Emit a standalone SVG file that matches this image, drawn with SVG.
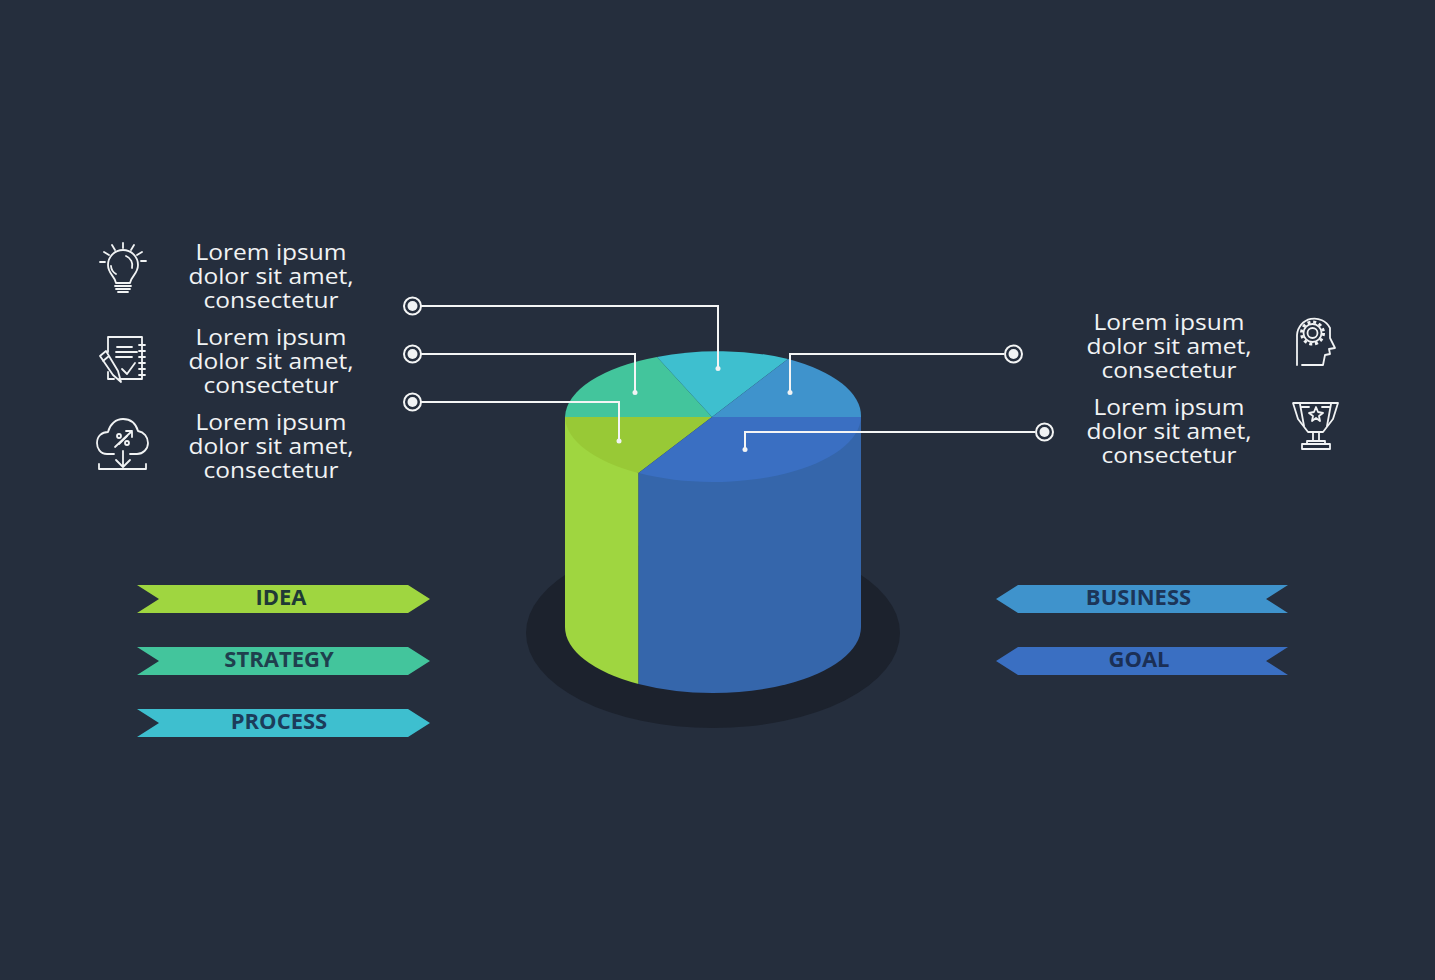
<svg xmlns="http://www.w3.org/2000/svg" width="1435" height="980" viewBox="0 0 1435 980">
<style>
.t{font-family:"Open Sans","Liberation Sans",sans-serif;font-size:22px;fill:#f1f3f4;text-anchor:middle}
.l{font-family:"Open Sans","Liberation Sans",sans-serif;font-size:22px;font-weight:700;text-anchor:middle}
.ic{fill:none;stroke:#f1f3f4;stroke-width:1.8;stroke-linecap:round;stroke-linejoin:round}
.c{fill:none;stroke:#f4f5f5;stroke-width:2}
.d{fill:#f1f3f4}
.r{fill:none;stroke:#f4f5f5;stroke-width:2}
</style>
<rect width="1435" height="980" fill="#252e3d"/>
<g id="cylinder">
<ellipse cx="713" cy="633" rx="187" ry="95" fill="#1c222d"/>
<path d="M565 417V627A148 66 0 0 0 638.500 684V473L565 417Z" fill="#9fd640"/>
<path d="M638.500 473V684A148 66 0 0 0 861 627V417Z" fill="#3566ab"/>
<path d="M565 417A148 66 0 0 0 638.500 473L712 417Z" fill="#98c936"/>
<path d="M565 417A148 66 0 0 1 657 357L712 417Z" fill="#43c59c"/>
<path d="M657 357A148 66 0 0 1 788 359L712 417Z" fill="#3ebfcf"/>
<path d="M788 359A148 66 0 0 1 861 417H712Z" fill="#3f93cc"/>
<path d="M712 417H861A148 66 0 0 1 638.500 473Z" fill="#3a6fc2"/>
</g>
<g id="connectors">
<path class="c" d="M421 306H718V368"/>
<path class="c" d="M421 354H635V392"/>
<path class="c" d="M421 402H619V441"/>
<path class="c" d="M1004 354H790V392"/>
<path class="c" d="M1035 432H745V449"/>
<circle class="d" cx="718" cy="368.500" r="2.500"/>
<circle class="d" cx="635" cy="392.500" r="2.500"/>
<circle class="d" cx="619" cy="441" r="2.500"/>
<circle class="d" cx="790" cy="392.500" r="2.500"/>
<circle class="d" cx="745" cy="449.500" r="2.500"/>
</g>
<g id="dot-1"><circle class="r" cx="412.500" cy="306" r="8.500"/><circle class="d" cx="412.500" cy="306" r="5"/></g>
<g id="dot-2"><circle class="r" cx="412.500" cy="354" r="8.500"/><circle class="d" cx="412.500" cy="354" r="5"/></g>
<g id="dot-3"><circle class="r" cx="412.500" cy="402" r="8.500"/><circle class="d" cx="412.500" cy="402" r="5"/></g>
<g id="dot-4"><circle class="r" cx="1013.500" cy="354" r="8.500"/><circle class="d" cx="1013.500" cy="354" r="5"/></g>
<g id="dot-5"><circle class="r" cx="1044.500" cy="432" r="8.500"/><circle class="d" cx="1044.500" cy="432" r="5"/></g>
<g id="text-1"><text class="t" transform="translate(271 260) scale(1.115 1)"><tspan x="0" y="0">Lorem ipsum</tspan><tspan x="0" y="24">dolor sit amet,</tspan><tspan x="0" y="48">consectetur</tspan></text></g>
<g id="text-2"><text class="t" transform="translate(271 345) scale(1.115 1)"><tspan x="0" y="0">Lorem ipsum</tspan><tspan x="0" y="24">dolor sit amet,</tspan><tspan x="0" y="48">consectetur</tspan></text></g>
<g id="text-3"><text class="t" transform="translate(271 430) scale(1.115 1)"><tspan x="0" y="0">Lorem ipsum</tspan><tspan x="0" y="24">dolor sit amet,</tspan><tspan x="0" y="48">consectetur</tspan></text></g>
<g id="text-4"><text class="t" transform="translate(1169 330) scale(1.115 1)"><tspan x="0" y="0">Lorem ipsum</tspan><tspan x="0" y="24">dolor sit amet,</tspan><tspan x="0" y="48">consectetur</tspan></text></g>
<g id="text-5"><text class="t" transform="translate(1169 415) scale(1.115 1)"><tspan x="0" y="0">Lorem ipsum</tspan><tspan x="0" y="24">dolor sit amet,</tspan><tspan x="0" y="48">consectetur</tspan></text></g>
<g id="icon-bulb" class="ic">
<path d="M116 283C115 276 108 274 108 265A15 15 0 0 1 138 265C138 274 131 276 130 283Z"/>
<path d="M115 286H131M116 289H130M118 292H128"/>
<path d="M126 256A10 10 0 0 1 132 268M111 266A10 10 0 0 0 116 274"/>
<path d="M123 243V248M112 245L115 250M134 245L131 250M104 252L109 255M142 252L137 255M100 262H105M146 261H141"/>
</g>
<g id="icon-notes" class="ic">
<path d="M108 352V337H142V379H119M108 372V379H114"/>
<path d="M117 347H132M116 352H137M116 357H132M122 369L127 374L135 363"/>
<path d="M139 345H145M139 351H145M139 357H145M139 363H145M139 369H145M139 375H145"/>
<path d="M100 356L106 351L118 371L121 382L113 375ZM103 361L109 356"/>
</g>
<g id="icon-cloud" class="ic">
<path d="M114 454H107C100 454 97 448 97 443C97 436 102 432 108 432C110 424 116 419 123 419C131 419 136 424 138 431C144 432 148 437 148 443C148 449 143 454 137 454H130"/>
<path d="M115 447L132 431M126 431H132V437"/>
<circle cx="119" cy="436" r="2"/><circle cx="127" cy="443" r="2"/><path d="M127 436L119 444"/>
<path d="M123 451V466M116 460L123 467L130 460"/>
<path d="M99 464V469H146V464"/>
</g>
<g id="icon-head" class="ic">
<path d="M1297 365V335A17.500 17.500 0 0 1 1330 328V338L1335 348L1329 349L1330 354L1325 355L1323 365H1302"/>
<circle cx="1312.500" cy="333" r="5"/>
<circle cx="1312.500" cy="333" r="9"/>
<circle cx="1312.500" cy="333" r="11" stroke-dasharray="3 2.800" stroke-width="3" stroke-linecap="butt"/>
</g>
<g id="icon-trophy" class="ic">
<path d="M1293 403H1338L1333 419L1323 432H1308L1298 419Z"/>
<path d="M1300 404L1304 426M1331 404L1327 426M1302 407H1309M1322 407H1329"/>
<path d="M1316 407L1318 412L1323 413L1319 416L1320 421L1316 418L1312 421L1313 416L1309 413L1314 412Z"/>
<path d="M1313 432V441M1319 432V441M1307 444V441H1325V444M1302 449V444H1330V449Z"/>
</g>
<g id="label-idea"><path d="M137 585H408L430 599L408 613H137L159 599Z" fill="#9fd640"/><text class="l" x="281" y="605" fill="#1f3a36">IDEA</text></g>
<g id="label-strategy"><path d="M137 647H408L430 661L408 675H137L159 661Z" fill="#43c59c"/><text class="l" x="279" y="667" fill="#1f3f4e">STRATEGY</text></g>
<g id="label-process"><path d="M137 709H408L430 723L408 737H137L159 723Z" fill="#3ebfcf"/><text class="l" x="279" y="729" fill="#1c3c5a">PROCESS</text></g>
<g id="label-business"><path d="M1288 585H1018L996 599L1018 613H1288L1266 599Z" fill="#3f93cc"/><text class="l" x="1138.500" y="605" fill="#1c3558">BUSINESS</text></g>
<g id="label-goal"><path d="M1288 647H1018L996 661L1018 675H1288L1266 661Z" fill="#3a6fc2"/><text class="l" x="1139" y="667" fill="#1b2f55">GOAL</text></g>
</svg>
